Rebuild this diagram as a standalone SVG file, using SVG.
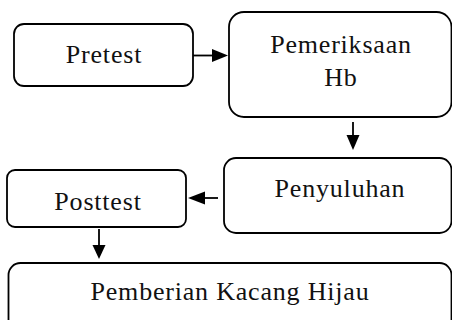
<svg xmlns="http://www.w3.org/2000/svg" width="452" height="320" viewBox="0 0 452 320">
  <style>
    .box { fill: #ffffff; stroke: #000000; stroke-width: 1.8; }
    .lbl { font-family: "Liberation Serif", "DejaVu Serif", serif; font-size: 26px; letter-spacing: 0.8px; fill: #111111; text-anchor: middle; }
    .conn { stroke: #000000; stroke-width: 1.8; fill: none; }
    .head { fill: #000000; }
  </style>
  <rect width="452" height="320" fill="#ffffff"/>

  <g id="pretest">
    <rect class="box" x="14" y="24" width="179" height="62" rx="10"/>
    <text class="lbl" x="104" y="63">Pretest</text>
  </g>

  <g id="pemeriksaan-hb">
    <rect class="box" x="229" y="12" width="222.5" height="105" rx="15"/>
    <text class="lbl" x="341" y="53">Pemeriksaan</text>
    <text class="lbl" x="341" y="86">Hb</text>
  </g>

  <g id="penyuluhan">
    <rect class="box" x="224" y="158" width="227.5" height="75" rx="12"/>
    <text class="lbl" x="340" y="197">Penyuluhan</text>
  </g>

  <g id="posttest">
    <rect class="box" x="7" y="170" width="179" height="57" rx="8"/>
    <text class="lbl" x="98" y="210">Posttest</text>
  </g>

  <g id="pemberian-kacang-hijau">
    <rect class="box" x="8.5" y="263" width="443" height="70" rx="12"/>
    <text class="lbl" x="230" y="300">Pemberian Kacang Hijau</text>
  </g>

  <g id="connectors">
    <!-- Pretest to Pemeriksaan Hb -->
    <line class="conn" x1="193" y1="55.5" x2="213" y2="55.5"/>
    <polygon class="head" points="212,49 228,55.5 212,62"/>
    <!-- Pemeriksaan Hb to Penyuluhan -->
    <line class="conn" x1="353" y1="122" x2="353" y2="136"/>
    <polygon class="head" points="346.5,135 359.5,135 353,150"/>
    <!-- Penyuluhan to Posttest -->
    <line class="conn" x1="218" y1="198" x2="204" y2="198"/>
    <polygon class="head" points="205,191.5 205,204.5 188,198"/>
    <!-- Posttest to Pemberian Kacang Hijau -->
    <line class="conn" x1="99" y1="229" x2="99" y2="246"/>
    <polygon class="head" points="92.5,245 105.5,245 99,259"/>
  </g>
</svg>
